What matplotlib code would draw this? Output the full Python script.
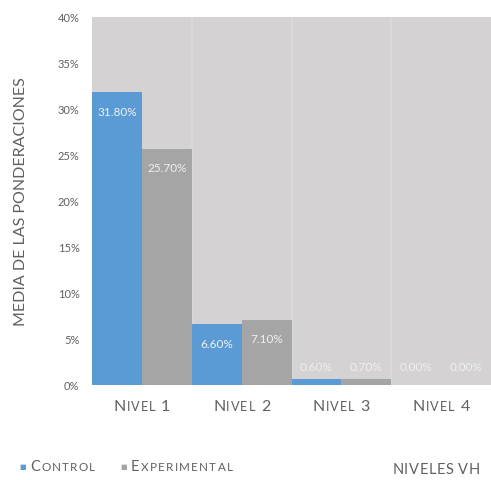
import matplotlib.pyplot as plt
import numpy as np
from matplotlib.font_manager import FontProperties, findfont
from matplotlib.ft2font import FT2Font, LoadFlags

niveles = ['Nivel 1', 'Nivel 2', 'Nivel 3', 'Nivel 4']
control = [31.80, 6.60, 0.60, 0.00]
experimental = [25.70, 7.10, 0.70, 0.00]
yticks = [0, 5, 10, 15, 20, 25, 30, 35, 40]

blue = '#5b9bd5'
grey = '#a5a5a5'
bg = '#d4d2d3'
txt = '#606060'
FONT = 'Lato'

plt.rcParams['font.family'] = [FONT, 'DejaVu Sans']
_ft = FT2Font(findfont(FontProperties(family=FONT)))


def advance(ch, size):
    _ft.set_size(size, 100)
    g = _ft.load_char(ord(ch), flags=LoadFlags.NO_HINTING)
    return g.linearHoriAdvance / 65536


def spaced_text(fig, x, y, s, size, color, ha='left', track=1.0,
                caps=True, ratio=0.8):
    # draws a string letter by letter (pixel coords), lower case shown as small caps
    chars = []
    for ch in s:
        sz = size * ratio if (caps and ch.islower()) else size
        chars.append((ch.upper() if caps else ch, sz))
    widths = [advance(c, sz) + track for c, sz in chars]
    total = sum(widths) - track
    x0 = x - total / 2 if ha == 'center' else (x - total if ha == 'right' else x)
    for (c, sz), w in zip(chars, widths):
        if c != ' ':
            fig.text(x0, y, c, fontsize=sz, color=color, va='baseline',
                     transform=None)
        x0 += w


def main():
    fig = plt.figure(figsize=(4.91, 4.81), dpi=100)
    ax = fig.add_axes([92 / 491, 95 / 481, 399 / 491, 368 / 481])
    ax.set_facecolor(bg)

    x = np.arange(len(niveles))
    w = 0.5
    b1 = ax.bar(x - w / 2, control, w, color=blue, zorder=2)
    b2 = ax.bar(x + w / 2, experimental, w, color=grey, zorder=2)

    for bars, vals in ((b1, control), (b2, experimental)):
        for r, v in zip(bars, vals):
            cx = r.get_x() + r.get_width() / 2
            y = v - 2.1 if v > 3 else 2.0
            ax.text(cx, y, '%.2f%%' % v, ha='center', va='center',
                    fontsize=8.5, color='#f0f0f0', zorder=3)

    ax.set_xlim(-0.5, len(niveles) - 0.5)
    ax.set_ylim(0, 40)
    ax.set_yticks(yticks)
    ax.set_yticklabels(['%d%%' % t for t in yticks], fontsize=8, color=txt)
    ax.set_xticks(x)
    ax.set_xticklabels([])
    ax.tick_params(length=0, axis='y', pad=9)
    ax.tick_params(length=0, axis='x')
    for xv in x[1:] - 0.5:
        ax.axvline(xv, color='#dcdbdb', lw=1.2, zorder=1)
    for s in ax.spines.values():
        s.set_visible(False)

    # category labels in small caps under each group
    for xi, name in zip(x, niveles):
        px = ax.transData.transform((xi, 0))[0]
        spaced_text(fig, px, 481 - 411, name, 11.5, txt, ha='center', track=0.9)

    fig.text(21 / 491, 1 - 202 / 481, 'MEDIA DE LAS PONDERACIONES', rotation=90,
             ha='center', va='center', fontsize=11.5, color=txt)

    # legend row
    fig.text(23 / 491, 1 - 466 / 481, '\u25a0', color=blue, fontsize=5,
             va='center', ha='center')
    spaced_text(fig, 30, 481 - 471, 'Control', 10.5, txt, track=1.3)
    fig.text(124 / 491, 1 - 466 / 481, '\u25a0', color=grey, fontsize=5,
             va='center', ha='center')
    spaced_text(fig, 131, 481 - 471, 'Experimental', 10.5, txt, track=1.3)
    spaced_text(fig, 480, 481 - 474, 'NIVELES VH', 10.5, txt, ha='right',
                track=0.6, caps=False)

    fig.savefig('out.png', dpi=100, facecolor='white')


if __name__ == '__main__':
    main()
